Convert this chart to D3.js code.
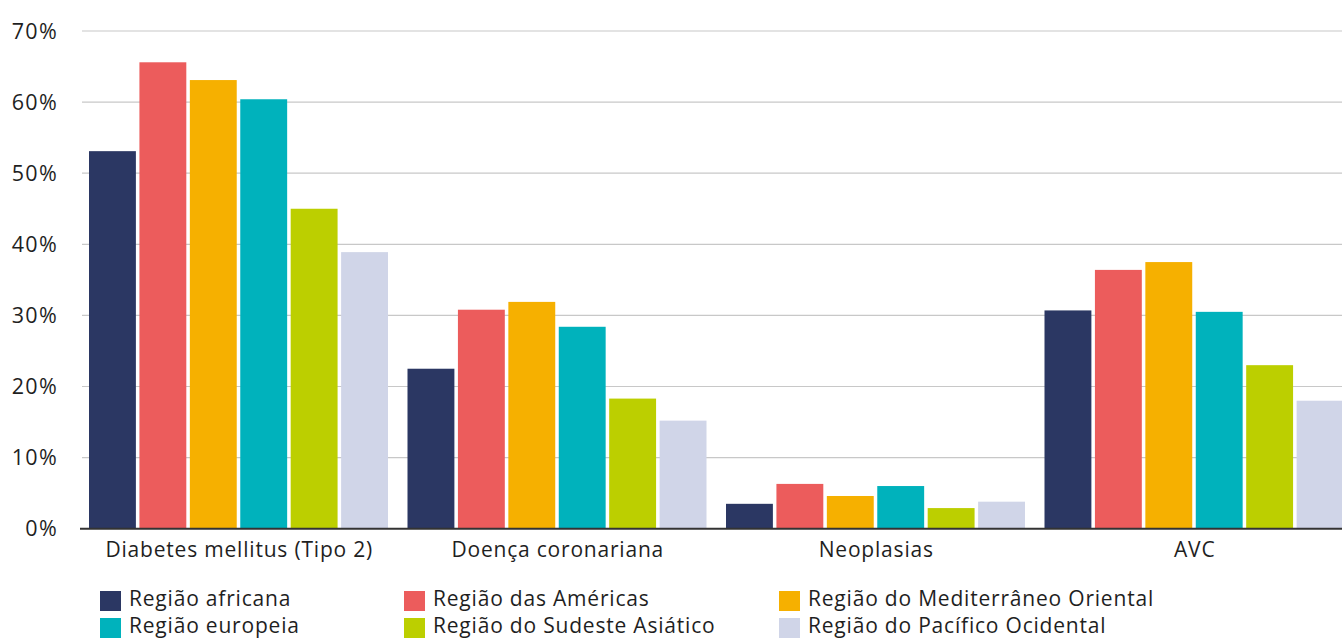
<!DOCTYPE html>
<html>
<head>
<meta charset="utf-8">
<script src="https://cdn.jsdelivr.net/npm/d3@7"></script>
<style>
  body { margin: 0; background: #fff; }
  svg text { font-family: "Open Sans", "Noto Sans", sans-serif; fill: #1f1f1f; }
</style>
</head>
<body>
<div id="chart"></div>
<script>
// categories and series
var categories = ["Diabetes mellitus (Tipo 2)", "Doença coronariana", "Neoplasias", "AVC"];
var seriesNames = ["Região africana", "Região das Américas", "Região do Mediterrâneo Oriental",
    "Região europeia", "Região do Sudeste Asiático", "Região do Pacífico Ocidental"];
var colors = ["#2b3763", "#ec5c5c", "#f6b000", "#00b2bc", "#bccf00", "#d0d5e8"];

// values in % per series, in category order
var africana = [53.1, 22.5, 3.5, 30.7];
var americas = [65.6, 30.8, 6.3, 36.4];
var mediterraneo = [63.1, 31.9, 4.6, 37.5];
var europeia = [60.4, 28.4, 6.0, 30.5];
var sudeste = [45.0, 18.3, 2.9, 23.0];
var pacifico = [38.9, 15.2, 3.8, 18.0];
var seriesValues = [africana, americas, mediterraneo, europeia, sudeste, pacifico];

var yTicks = [0, 10, 20, 30, 40, 50, 60, 70];

var width = 1342, height = 642;
var margin = { top: 31, left: 80, bottom: 113 };

var svg = d3.select("#chart").append("svg")
    .attr("width", width)
    .attr("height", height);

var x0 = d3.scaleBand()
    .domain(categories)
    .range([margin.left, margin.left + 4 * 318.5]);

var x1 = d3.scaleBand()
    .domain(d3.range(seriesNames.length))
    .range([9, 308])
    .paddingInner(0.07);

var y = d3.scaleLinear()
    .domain([0, 70])
    .range([height - margin.bottom - 0.3, margin.top]);

// gridlines
svg.append("g")
    .selectAll("line")
    .data(yTicks.slice(1))
    .enter().append("line")
    .attr("x1", margin.left + 2)
    .attr("x2", width)
    .attr("y1", function (d) { return y(d); })
    .attr("y2", function (d) { return y(d); })
    .attr("stroke", "#c8c8c8")
    .attr("stroke-width", 1.2);

// y tick labels
svg.append("g")
    .selectAll("text")
    .data(yTicks)
    .enter().append("text")
    .attr("x", 58)
    .attr("y", function (d) { return y(d) + 7.5; })
    .attr("text-anchor", "end")
    .style("font-size", "21.5px")
    .style("letter-spacing", "1.3px")
    .text(function (d) { return d + "%"; });

// bars
var groups = svg.append("g")
    .selectAll("g")
    .data(categories)
    .enter().append("g")
    .attr("transform", function (d) { return "translate(" + x0(d) + ",0)"; });

groups.selectAll("rect")
    .data(function (c, ci) {
        return seriesValues.map(function (vals, si) { return { s: si, v: vals[ci] }; });
    })
    .enter().append("rect")
    .attr("x", function (d) { return x1(d.s); })
    .attr("width", x1.bandwidth())
    .attr("y", function (d) { return y(d.v); })
    .attr("height", function (d) { return y(0) - y(d.v); })
    .attr("fill", function (d) { return colors[d.s]; });

// baseline
svg.append("line")
    .attr("x1", margin.left)
    .attr("x2", width)
    .attr("y1", y(0))
    .attr("y2", y(0))
    .attr("stroke", "#333")
    .attr("stroke-width", 2);

// category labels
svg.append("g")
    .selectAll("text")
    .data(categories)
    .enter().append("text")
    .attr("x", function (d) { return x0(d) + x0.bandwidth() / 2; })
    .attr("y", 557)
    .attr("text-anchor", "middle")
    .style("font-size", "21px")
    .style("letter-spacing", "0.8px")
    .text(function (d) { return d; });

// legend
var legendX = [100, 404, 779];
var legend = svg.append("g")
    .selectAll("g")
    .data(seriesNames)
    .enter().append("g")
    .attr("transform", function (d, i) {
        return "translate(" + legendX[i % 3] + "," + (591 + Math.floor(i / 3) * 27) + ")";
    });

legend.append("rect")
    .attr("width", 21)
    .attr("height", 20)
    .attr("fill", function (d, i) { return colors[i]; });

legend.append("text")
    .attr("x", 29)
    .attr("y", 14.5)
    .style("font-size", "21px")
    .style("letter-spacing", "0.8px")
    .text(function (d) { return d; });
</script>
</body>
</html>
